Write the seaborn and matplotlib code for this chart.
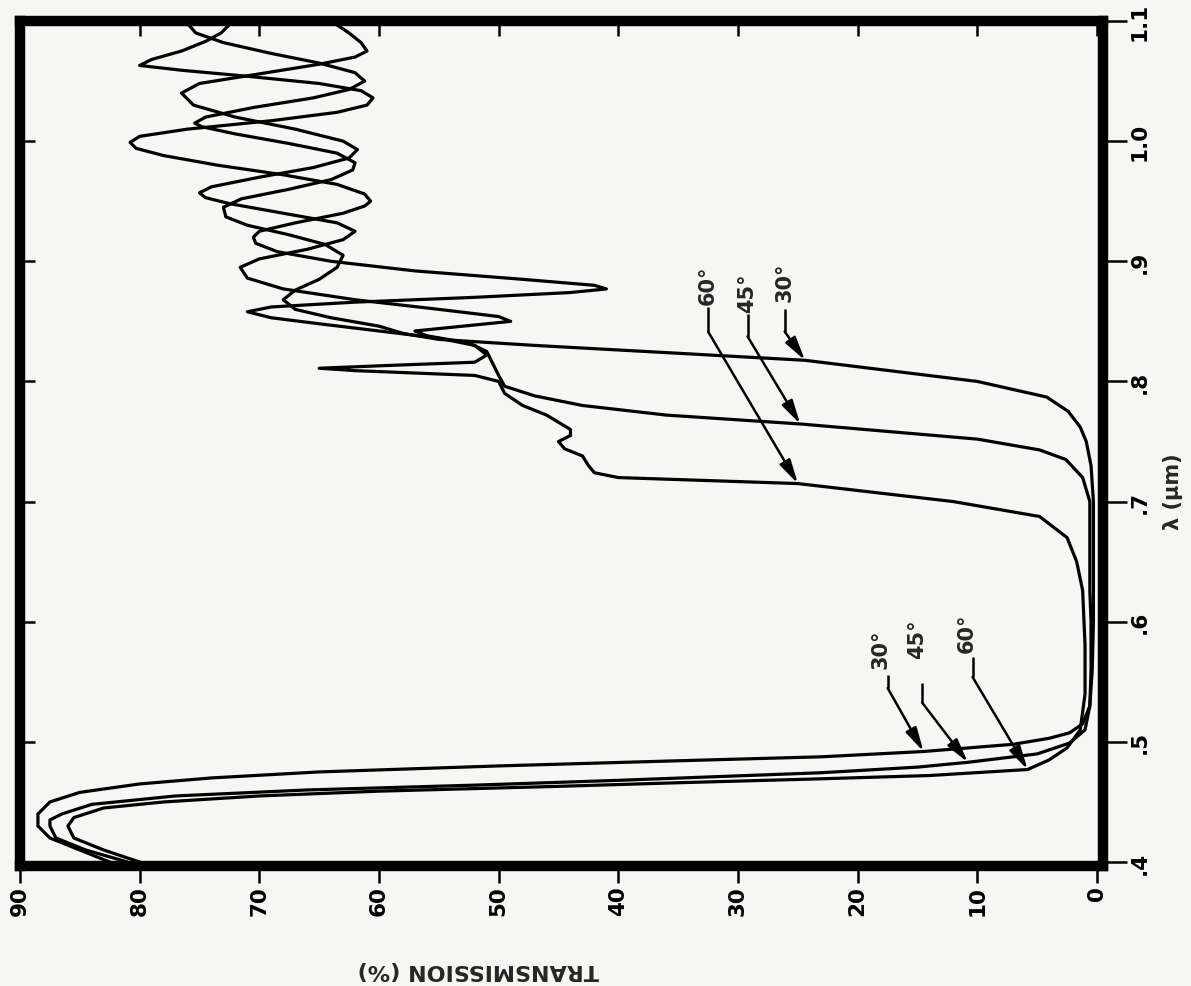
import numpy as np
import pandas as pd
import seaborn as sns
import matplotlib
matplotlib.use("Agg")
import matplotlib.pyplot as plt

# ---------------- data ----------------
wl_30 = [0.400, 0.410, 0.420, 0.430, 0.440, 0.450, 0.458, 0.465, 0.470, 0.475, 0.480, 0.484,
         0.4876, 0.492, 0.498, 0.503, 0.5075, 0.515, 0.530, 0.560, 0.600, 0.650, 0.700, 0.730,
         0.750, 0.762, 0.775, 0.787, 0.800, 0.8176,
         0.824, 0.830, 0.835, 0.840, 0.846, 0.853, 0.860, 0.868, 0.876, 0.885, 0.895, 0.905,
         0.914, 0.922, 0.930, 0.937, 0.945, 0.952, 0.960, 0.968, 0.976, 0.982, 0.990, 0.998,
         1.006, 1.012, 1.015, 1.020, 1.028, 1.036, 1.043, 1.050, 1.057, 1.065, 1.073, 1.082,
         1.090, 1.100]
tr_30 = [82.5, 85, 87.5, 88.5, 88.5, 87.5, 85, 80, 74, 65, 50, 36,
         23, 14.5, 7, 4, 2.3, 1.2, 0.6, 0.4, 0.3, 0.3, 0.3, 0.5,
         0.9, 1.4, 2.4, 4.2, 10, 24.4,
         36, 47, 55, 58, 60, 64, 67, 68, 67, 65, 63.5, 63,
         64.5, 67.5, 71, 72.8, 73, 71.5, 67.5, 64, 62.2, 62, 63.5, 67.5,
         72, 74.8, 75.4, 74.5, 70.5, 65.5, 62.5, 61.2, 62, 65, 69, 73,
         75.3, 76.2]

wl_45 = [0.400, 0.410, 0.420, 0.430, 0.435, 0.440, 0.448, 0.455, 0.460, 0.464, 0.468, 0.4743,
         0.479, 0.483, 0.490, 0.499, 0.510, 0.530, 0.560, 0.600, 0.626, 0.660, 0.700, 0.720,
         0.735, 0.743, 0.752, 0.7646,
         0.772, 0.780, 0.788, 0.796, 0.805, 0.815, 0.825, 0.832, 0.838, 0.842, 0.846, 0.850,
         0.854, 0.860, 0.868, 0.877, 0.886, 0.895, 0.902, 0.910, 0.918, 0.925, 0.932, 0.940,
         0.948, 0.953, 0.957, 0.962, 0.970, 0.978, 0.986, 0.993, 1.000, 1.010, 1.020, 1.030,
         1.040, 1.048, 1.056, 1.064, 1.070, 1.075, 1.082, 1.090, 1.100]
tr_45 = [81, 84.5, 87, 87.5, 87.5, 86.5, 84, 77, 66, 52, 40, 23.1,
         15, 10.8, 5, 2.3, 1.0, 0.6, 0.5, 0.5, 0.6, 0.6, 0.6, 1.2,
         2.6, 4.8, 10, 24.8,
         36, 43, 47, 49.5, 50, 50.5, 51, 52.5, 56, 57, 53, 49,
         50, 55, 62, 68, 71, 71.6, 70, 66, 63, 62, 63.5, 68,
         72.5, 74.5, 75, 74, 70, 65.5, 62.5, 61.8, 63, 67, 72, 75.5,
         76.5, 75, 70, 65, 62, 61, 61.5, 62.5, 64]

wl_60 = [0.400, 0.410, 0.420, 0.430, 0.437, 0.445, 0.450, 0.455, 0.459, 0.463, 0.466, 0.469,
         0.472, 0.477, 0.485, 0.495, 0.510, 0.540, 0.580, 0.626, 0.650, 0.670, 0.6876, 0.700,
         0.715,
         0.720, 0.724, 0.730, 0.738, 0.744, 0.750, 0.755, 0.760, 0.766, 0.772, 0.780, 0.790,
         0.800, 0.805, 0.809, 0.811, 0.813, 0.816, 0.822, 0.830, 0.836, 0.842, 0.848, 0.853,
         0.858, 0.862, 0.866, 0.870, 0.874, 0.877, 0.880, 0.885, 0.892, 0.900, 0.908, 0.915,
         0.920, 0.925, 0.932, 0.940, 0.946, 0.950, 0.956, 0.964, 0.972, 0.980, 0.988, 0.994,
         0.999, 1.004, 1.010, 1.017, 1.024, 1.030, 1.036, 1.042, 1.048, 1.054, 1.059, 1.063,
         1.068, 1.075, 1.083, 1.090, 1.100]
tr_60 = [80, 83, 85.5, 86, 85.5, 83, 78, 70, 60, 45, 35, 24,
         14, 5.8, 4.0, 2.5, 1.4, 1.0, 1.0, 1.2, 1.7, 2.5, 4.8, 12,
         25,
         40, 42, 42.5, 43, 44.5, 45, 44, 44, 45, 46, 48, 49.5,
         50, 52, 62, 65, 60, 52, 51, 52, 55, 60, 65, 69,
         71, 69, 62, 52, 44, 41, 42, 48, 57, 64, 68.5, 70.3,
         70.5, 70, 67, 63, 61.2, 60.7, 61.2, 63.5, 68, 73.5, 78, 80.3,
         80.8, 80, 76, 69, 63.5, 61, 60.5, 61.5, 65, 71, 76.5, 80,
         79, 76.5, 74.5, 73.2, 72.2]

angle_names = ["30°", "45°", "60°"]

trans_ticks = [0, 10, 20, 30, 40, 50, 60, 70, 80, 90]
trans_tick_labels = ["0", "10", "20", "30", "40", "50", "60", "70", "80", "90"]
wl_ticks = [0.4, 0.5, 0.6, 0.7, 0.8, 0.9, 1.0, 1.1]
wl_tick_labels = [".4", ".5", ".6", ".7", ".8", ".9", "1.0", "1.1"]

trans_label = "TRANSMISSION (%)"
wl_label = "λ (μm)"

# annotation callouts: label, label position, leader start, leader bend, arrow tip (T %, λ µm)
callouts = [
    ("30°", (18.1, 0.578), (17.5, 0.5557), (17.5, 0.5449), (14.5, 0.492)),
    ("45°", (15.0, 0.586), (14.6, 0.549), (14.6, 0.5325), (10.8, 0.483)),
    ("60°", (10.9, 0.591), (10.4, 0.5706), (10.4, 0.554), (5.8, 0.477)),
    ("30°", (26.1, 0.883), (26.1, 0.8606), (26.1, 0.8415), (24.4, 0.8176)),
    ("45°", (29.2, 0.8747), (29.2, 0.8564), (29.2, 0.8374), (24.8, 0.7646)),
    ("60°", (32.5, 0.8805), (32.5, 0.8622), (32.5, 0.8415), (25.0, 0.715)),
]

# ---------------- build table ----------------
frames = []
for name, wl, tr in [("30°", wl_30, tr_30), ("45°", wl_45, tr_45), ("60°", wl_60, tr_60)]:
    frames.append(pd.DataFrame({"wavelength": wl, "transmission": tr, "angle": name}))
df = pd.concat(frames, ignore_index=True)

# ---------------- style ----------------
sns.set_theme(style="white")
plt.rcParams["font.family"] = ["DejaVu Sans"]
plt.rcParams["font.weight"] = "bold"

W, H = 1191, 987
fig = plt.figure(figsize=(W / 100, H / 100), dpi=100)
bg = "#f6f6f3"
fig.patch.set_facecolor(bg)

left_px, right_px, top_px, bottom_px = 20, 1103, 22, 867
ax = fig.add_axes([left_px / W, (H - bottom_px) / H,
                   (right_px - left_px) / W, (bottom_px - top_px) / H])
ax.set_facecolor(bg)

sns.lineplot(data=df, x="transmission", y="wavelength", hue="angle",
             palette=["black"] * 3, estimator=None, sort=False, legend=False,
             lw=2.3, ax=ax)

ax.set_xlim(90.0, -0.5)
ax.set_ylim(0.3967, 1.0967)

for s in ax.spines.values():
    s.set_visible(True)
    s.set_linewidth(7.5)
    s.set_color("black")
    s.set_capstyle("projecting")

fs = 15.5
ax.set_xticks(trans_ticks)
ax.set_xticklabels(trans_tick_labels, rotation=90, fontsize=fs, fontweight="bold")
ax.yaxis.tick_right()
ax.set_yticks(wl_ticks)
ax.set_yticklabels(wl_tick_labels, rotation=90, fontsize=fs, fontweight="bold", va="center")
ax.tick_params(axis="x", direction="out", length=12, width=1.8, pad=2, colors="black",
               bottom=True, top=False)
ax.tick_params(axis="y", direction="out", length=17, width=1.8, pad=2, colors="black",
               right=True, left=False)

# inward ticks on the opposite sides
secx = ax.secondary_xaxis("top")
secx.set_xticks(trans_ticks)
secx.tick_params(direction="in", length=11, width=1.8, labeltop=False, colors="black")
secx.spines["top"].set_visible(False)
secy = ax.secondary_yaxis("left")
secy.set_yticks(wl_ticks)
secy.tick_params(direction="in", length=11, width=1.8, labelleft=False, colors="black")
secy.spines["left"].set_visible(False)

ax.set_xlabel(trans_label, rotation=180, fontsize=16, fontweight="bold", va="center")
ax.xaxis.set_label_coords((478 - left_px) / (right_px - left_px),
                          (bottom_px - 970) / (bottom_px - top_px))
ax.yaxis.set_label_position("right")
ax.set_ylabel(wl_label, rotation=90, fontsize=15, fontweight="bold", va="center")
ax.yaxis.set_label_coords((1173 - left_px) / (right_px - left_px),
                          (bottom_px - 492) / (bottom_px - top_px))

for text, lab, b1, b2, tip in callouts:
    ax.text(lab[0], lab[1], text, rotation=90, ha="center", va="center",
            fontsize=15, fontweight="bold")
    ax.plot([b1[0], b2[0]], [b1[1], b2[1]], color="black", lw=1.8,
            solid_capstyle="butt")
    ax.annotate("", xy=tip, xytext=b2,
                arrowprops=dict(arrowstyle="-|>,head_length=1.2,head_width=0.3",
                                color="black", lw=1.8, shrinkA=0, shrinkB=0))

fig.savefig("out.png", dpi=100, facecolor=bg)
